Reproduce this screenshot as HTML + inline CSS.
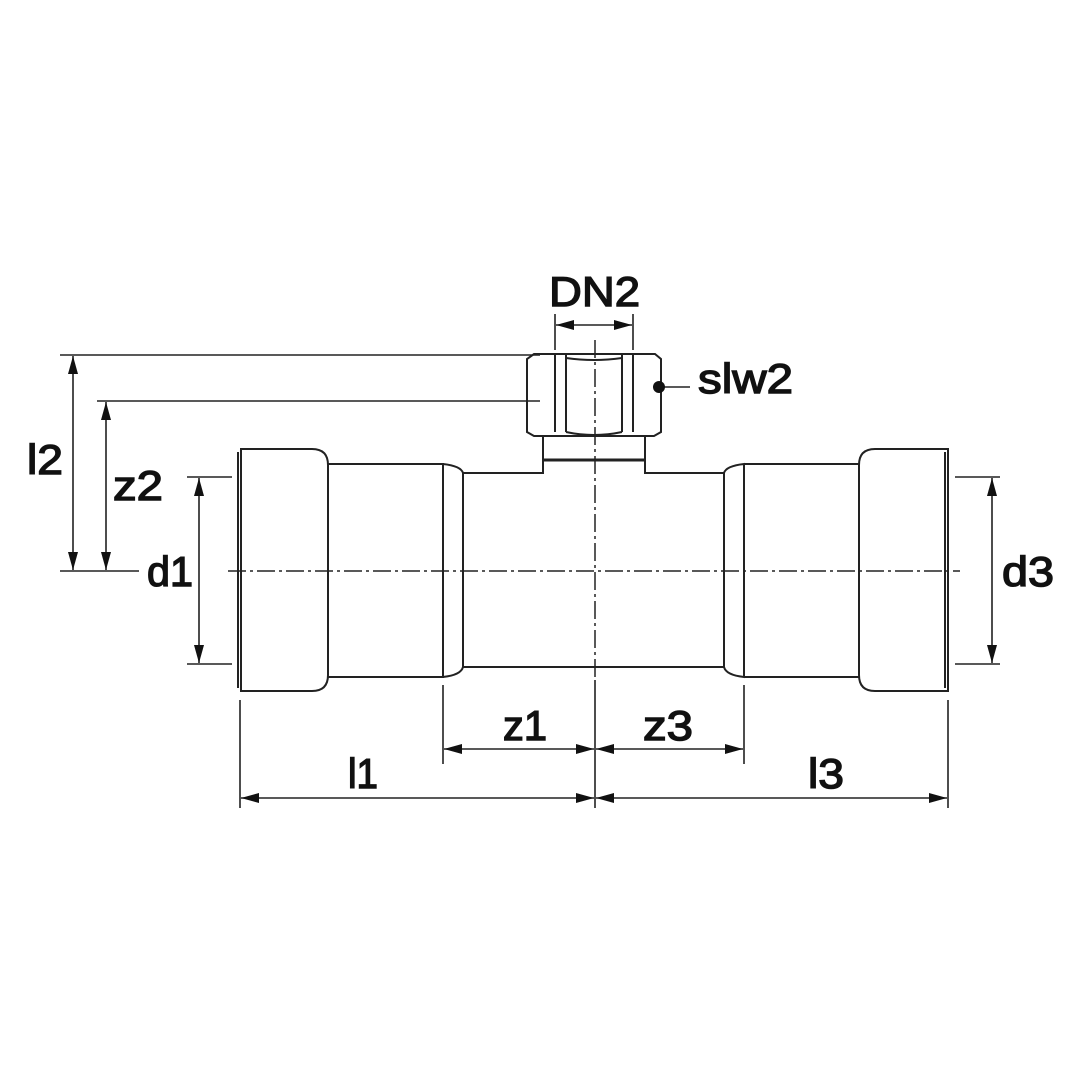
<!DOCTYPE html>
<html><head><style>
html,body{margin:0;padding:0;background:#fff;}
svg{display:block;}
text{font-family:"Liberation Sans",sans-serif;font-size:42px;fill:#111;stroke:#111;stroke-width:1.4px;}
</style></head><body>
<svg width="1080" height="1080" viewBox="0 0 1080 1080" xmlns="http://www.w3.org/2000/svg">
<defs>
<marker id="a" viewBox="0 0 18 10" refX="18" refY="5" markerWidth="18" markerHeight="10" markerUnits="userSpaceOnUse" orient="auto-start-reverse">
<path d="M0,0 L18,5 L0,10 Z" fill="#111"/>
</marker>
</defs>
<g fill="none" stroke="#222" stroke-width="2">
<path d="M241,449 H312 Q328,449 328,465 V675 Q328,691 312,691 H241 Z"/>
<line x1="238" y1="452" x2="238" y2="688"/>
<path d="M328,464 H443 V677 H328"/>
<path d="M443,464 Q461,466 463,473 V667 Q461,675 443,677"/>
<path d="M463,473 H543 V436"/>
<path d="M463,667 H724"/>
<path d="M724,473 H645 V436"/>
<path d="M724,473 Q726,466 744,464 V677 Q726,675 724,667 Z"/>
<path d="M744,464 H859 M744,677 H859"/>
<path d="M948,449 H875 Q859,449 859,465 V675 Q859,691 875,691 H948 Z"/>
<line x1="945" y1="452" x2="945" y2="688"/>
<path d="M534,354 H655 L661,359 V432 L654,436 H534 L527,432 V359 Z"/>
<path d="M555,355 V432 M566,355 V432 M622,355 V432 M633,355 V432"/>
<path d="M566,358 Q594,362 622,358 M566,432 Q594,438 622,432"/>
<line x1="543" y1="460" x2="645" y2="460" stroke-width="3"/>
<line x1="228" y1="571" x2="960" y2="571" stroke-width="1.5" stroke-dasharray="18,4,3,4"/>
<line x1="595" y1="340" x2="595" y2="680" stroke-width="1.5" stroke-dasharray="18,4,3,4"/>
</g>
<g fill="none" stroke="#222" stroke-width="1.6">
<line x1="60" y1="355" x2="540" y2="355"/>
<line x1="97" y1="401" x2="540" y2="401"/>
<line x1="60" y1="571" x2="139" y2="571"/>
<line x1="187" y1="477" x2="232" y2="477"/>
<line x1="187" y1="664" x2="232" y2="664"/>
<line x1="955" y1="477" x2="1000" y2="477"/>
<line x1="955" y1="664" x2="1000" y2="664"/>
<line x1="240" y1="700" x2="240" y2="808"/>
<line x1="443" y1="685" x2="443" y2="764"/>
<line x1="595" y1="680" x2="595" y2="808"/>
<line x1="744" y1="685" x2="744" y2="764"/>
<line x1="948" y1="700" x2="948" y2="808"/>
<line x1="555" y1="314" x2="555" y2="350"/>
<line x1="633" y1="314" x2="633" y2="350"/>
<line x1="661" y1="387" x2="690" y2="387"/>
<line x1="73" y1="356" x2="73" y2="570" marker-start="url(#a)" marker-end="url(#a)"/>
<line x1="106" y1="402" x2="106" y2="570" marker-start="url(#a)" marker-end="url(#a)"/>
<line x1="199" y1="478" x2="199" y2="663" marker-start="url(#a)" marker-end="url(#a)"/>
<line x1="992" y1="478" x2="992" y2="663" marker-start="url(#a)" marker-end="url(#a)"/>
<line x1="444" y1="749" x2="594" y2="749" marker-start="url(#a)" marker-end="url(#a)"/>
<line x1="596" y1="749" x2="743" y2="749" marker-start="url(#a)" marker-end="url(#a)"/>
<line x1="241" y1="798" x2="594" y2="798" marker-start="url(#a)" marker-end="url(#a)"/>
<line x1="596" y1="798" x2="947" y2="798" marker-start="url(#a)" marker-end="url(#a)"/>
<line x1="556" y1="325" x2="632" y2="325" marker-start="url(#a)" marker-end="url(#a)"/>
</g>
<circle cx="659" cy="387" r="6" fill="#111"/>
<text x="549" y="306" textLength="91" lengthAdjust="spacingAndGlyphs">DN2</text>
<text x="698" y="393" textLength="95" lengthAdjust="spacingAndGlyphs">slw2</text>
<text x="27" y="474" textLength="36" lengthAdjust="spacingAndGlyphs">l2</text>
<text x="113" y="500" textLength="50" lengthAdjust="spacingAndGlyphs">z2</text>
<text x="147" y="586" textLength="46" lengthAdjust="spacingAndGlyphs">d1</text>
<text x="1002" y="586" textLength="52" lengthAdjust="spacingAndGlyphs">d3</text>
<text x="503" y="740" textLength="44" lengthAdjust="spacingAndGlyphs">z1</text>
<text x="643" y="740" textLength="50" lengthAdjust="spacingAndGlyphs">z3</text>
<text x="348" y="788" textLength="30" lengthAdjust="spacingAndGlyphs">l1</text>
<text x="808" y="788" textLength="36" lengthAdjust="spacingAndGlyphs">l3</text>
</svg>
</body></html>
